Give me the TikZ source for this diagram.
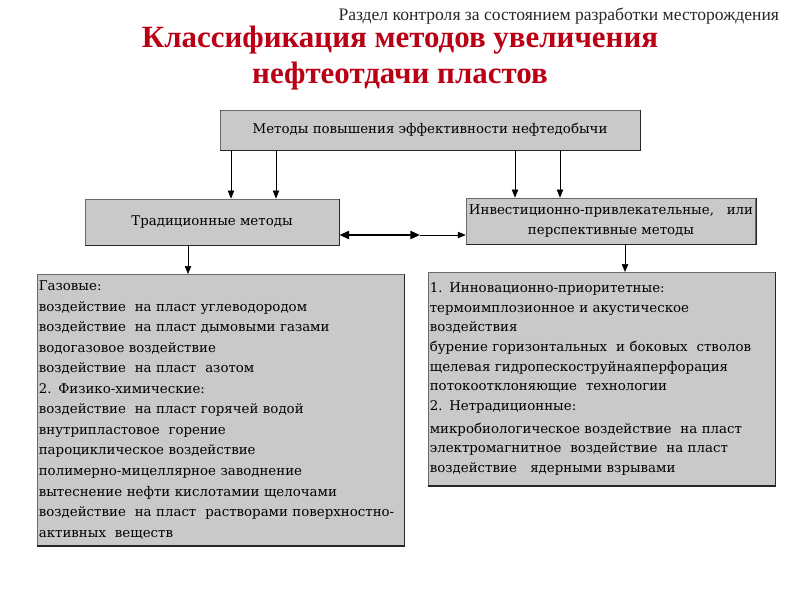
\documentclass[tikz,border=0pt]{standalone}
\usepackage{fontspec}
\setmainfont{Liberation Serif}
\newfontfamily\boxfont{DejaVu Serif}
\usetikzlibrary{arrows.meta,positioning}
\definecolor{boxgray}{RGB}{201,201,201}
\definecolor{framegray}{RGB}{105,105,105}
\definecolor{titlered}{RGB}{185,0,20}

\begin{document}
\begin{tikzpicture}[x=0.025cm,y=-0.025cm,
  box/.style={rectangle,draw=framegray,fill=boxgray,line width=0.6pt,inner sep=2pt,
              font=\boxfont\fontsize{9.5}{14.6}\selectfont},
  listbox/.style={box,anchor=north west,align=left,inner xsep=1pt},
  rim/.style={draw=black!85,line width=0.9pt},
  arrow/.style={-{Triangle[length=2mm,width=1.6mm]},draw=black,line width=0.5pt},
  twoway/.style={{Triangle[length=2.4mm,width=2mm]}-{Triangle[length=2.4mm,width=2mm]},line width=1.4pt}
]
\useasboundingbox (0,0) rectangle (800,600);
\node[anchor=north east,font=\fontsize{12.5}{14}\selectfont,text=black!85] (sect) at (784,3)
  {Раздел контроля за состоянием разработки месторождения};
\node[font=\bfseries\fontsize{22}{25}\selectfont,text=titlered,align=center] (title) at (400,58)
  {Классификация методов увеличения\\нефтеотдачи пластов};
\node[box,minimum width=10.5cm,minimum height=1cm] (top) at (430,130)
  {Методы повышения эффективности нефтедобычи};
\node[box,minimum width=6.35cm,minimum height=1.15cm] (trad) at (212,222) {Традиционные методы};
\node[box,align=center,minimum width=7.2cm,minimum height=1.15cm] (invest) at (611,221)
  {Инвестиционно-привлекательные,\ \ \ или\\перспективные методы};
\node[listbox,text width=9.1cm,minimum height=6.775cm] (gas) at (37,274)
  {Газовые:\\
   воздействие\ \ на пласт углеводородом\\
   воздействие\ \ на пласт дымовыми газами\\
   водогазовое воздействие\\
   воздействие\ \ на пласт\ \ азотом\\
   2. Физико-химические:\\
   воздействие\ \ на пласт горячей водой\\
   внутрипластовое\ \ горение\\
   пароциклическое воздействие\\
   полимерно-мицеллярное заводнение\\
   вытеснение нефти кислотамии щелочами\\
   воздействие\ \ на пласт\ \ растворами поверхностно-\\
   активных\ \ веществ};
\node[listbox,text width=8.6cm,minimum height=5.325cm,
      font=\boxfont\fontsize{9.5}{14}\selectfont] (new) at (428,272)
  {1. Инновационно-приоритетные:\\
   термоимплозионное и акустическое\\
   воздействия\\
   бурение горизонтальных\ \ и боковых\ \ стволов\\
   щелевая гидропескоструйнаяперфорация\\
   потокоотклоняющие\ \ технологии\\
   2. Нетрадиционные:\\[2pt]
   микробиологическое воздействие\ \ на пласт\\
   электромагнитное\ \ воздействие\ \ на пласт\\
   воздействие\ \ \ ядерными взрывами};
% dark lower and right edges
\foreach \n in {top,trad,invest,gas,new}
  \draw[rim] (\n.north east) -- (\n.south east) -- (\n.south west);
% connectors
\foreach \x in {231,276} \draw[arrow] (top.south -| \x,0) -- (trad.north -| \x,0);
\foreach \x in {515,560} \draw[arrow] (top.south -| \x,0) -- (invest.north -| \x,0);
\coordinate (mid) at (420,235);
\draw[twoway] (trad.east |- mid) -- (mid);
\draw[arrow] (mid) -- (invest.west |- mid);
\draw[arrow] (trad.south -| 188,0) -- (gas.north -| 188,0);
\draw[arrow] (invest.south -| 625,0) -- (new.north -| 625,0);
\end{tikzpicture}
\end{document}
